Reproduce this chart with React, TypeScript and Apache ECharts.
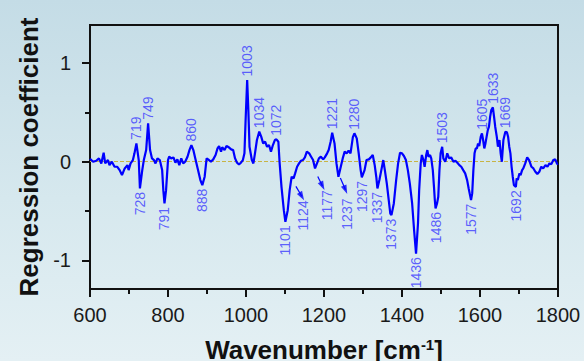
import React, { useEffect, useRef } from 'react';
import * as echarts from 'echarts';

const wavenumbers = [
  600, 608, 616, 623, 629, 635, 639, 646, 650, 656, 663, 670, 676, 682, 689, 696, 699, 704, 710, 714,
  719, 725, 728, 734, 738, 744, 749, 754, 759, 764, 768, 773, 779, 785, 788, 791, 795, 800, 803, 808,
  814, 819, 824, 829, 834, 839, 844, 850, 855, 860, 865, 870, 877, 883, 888, 894, 899, 903, 910, 916,
  922, 927, 931, 936, 939, 945, 950, 956, 962, 967, 972, 977, 982, 987, 992, 996, 999, 1003, 1006, 1009,
  1015, 1019, 1023, 1028, 1034, 1039, 1044, 1049, 1054, 1059, 1064, 1069, 1074, 1078, 1083, 1086, 1091, 1097, 1101, 1107,
  1112, 1117, 1122, 1126, 1131, 1136, 1141, 1146, 1151, 1156, 1162, 1167, 1172, 1177, 1182, 1187, 1192, 1198, 1202, 1208,
  1212, 1217, 1221, 1227, 1232, 1237, 1243, 1248, 1253, 1258, 1263, 1268, 1274, 1278, 1284, 1289, 1294, 1297, 1304, 1309,
  1315, 1320, 1325, 1330, 1334, 1337, 1342, 1347, 1352, 1356, 1361, 1366, 1370, 1373, 1379, 1385, 1390, 1395, 1400, 1405,
  1410, 1415, 1420, 1426, 1431, 1436, 1441, 1444, 1448, 1451, 1455, 1458, 1462, 1465, 1468, 1472, 1475, 1479, 1482, 1484,
  1486, 1490, 1493, 1496, 1499, 1503, 1506, 1511, 1516, 1521, 1526, 1532, 1537, 1542, 1547, 1552, 1557, 1562, 1567, 1571,
  1577, 1580, 1583, 1586, 1589, 1592, 1595, 1598, 1602, 1605, 1608, 1611, 1614, 1617, 1620, 1623, 1626, 1629, 1633, 1636,
  1639, 1643, 1646, 1650, 1653, 1656, 1660, 1665, 1669, 1672, 1675, 1678, 1681, 1684, 1687, 1692, 1694, 1697, 1701, 1704,
  1708, 1711, 1716, 1721, 1726, 1732, 1737, 1742, 1747, 1752, 1757, 1762, 1768, 1773, 1778, 1783, 1788, 1793, 1798, 1800,
];

const coefficients = [
  0.03, 0.0, 0.01, 0.034, -0.017, 0.091, -0.017, 0.017, -0.034, 0.0, -0.051, -0.051, -0.085, -0.135, -0.068, -0.034, -0.085, -0.017, 0.017, 0.085,
  0.186, 0.017, -0.271, -0.085, 0.017, 0.118, 0.389, 0.118, 0.034, 0.017, -0.017, 0.034, 0.017, -0.085, -0.288, -0.423, -0.288, 0.017, 0.051, 0.034,
  0.044, -0.01, 0.024, -0.034, 0.034, -0.017, 0.0, 0.051, 0.118, 0.169, 0.118, 0.034, -0.085, -0.186, -0.237, -0.152, 0.034, 0.024, 0.0, 0.024,
  0.068, 0.135, 0.159, 0.102, 0.146, 0.118, 0.159, 0.146, 0.125, 0.118, 0.034, -0.01, -0.027, -0.01, 0.017, 0.085, 0.423, 0.829, 0.525, 0.152,
  0.017, -0.017, 0.085, 0.22, 0.305, 0.254, 0.186, 0.203, 0.152, 0.169, 0.102, 0.169, 0.22, 0.227, 0.203, 0.0, -0.254, -0.491, -0.609, -0.491,
  -0.288, -0.152, -0.169, -0.118, -0.051, -0.017, 0.01, 0.017, 0.044, 0.102, 0.085, 0.051, 0.017, -0.068, -0.017, 0.034, 0.051, 0.024, 0.044, 0.085,
  0.118, 0.203, 0.294, 0.186, -0.017, -0.152, -0.051, 0.034, 0.102, 0.085, 0.112, 0.085, 0.25, 0.288, 0.237, 0.085, -0.085, -0.159, -0.085, 0.017,
  0.024, 0.044, 0.068, -0.034, -0.152, -0.271, -0.186, -0.085, 0.017, -0.085, -0.22, -0.389, -0.525, -0.541, -0.423, -0.186, -0.017, 0.091, 0.085, 0.058,
  0.017, -0.085, -0.22, -0.423, -0.694, -0.931, -0.626, -0.288, -0.017, 0.068, 0.017, -0.051, 0.068, 0.118, 0.051, 0.068, 0.034, -0.085, -0.254, -0.38,
  -0.474, -0.42, -0.355, -0.085, 0.085, 0.152, 0.034, 0.0, 0.085, 0.034, 0.044, 0.0, 0.01, -0.01, -0.034, -0.051, -0.085, -0.118, -0.186, -0.271,
  -0.389, -0.321, -0.085, 0.085, 0.135, 0.135, 0.186, 0.159, 0.254, 0.288, 0.22, 0.135, 0.186, 0.254, 0.321, 0.355, 0.457, 0.525, 0.552, 0.457,
  0.355, 0.254, 0.152, 0.22, 0.085, 0.0, 0.22, 0.305, 0.298, 0.254, 0.152, 0.085, -0.051, -0.152, -0.237, -0.254, -0.169, -0.186, -0.118, -0.135,
  -0.085, -0.068, -0.017, 0.044, 0.017, -0.051, -0.068, -0.102, -0.125, -0.102, -0.051, -0.068, -0.034, -0.051, -0.017, -0.024, 0.017, 0.024, -0.024, -0.02,
];

const positivePeakLabels = [719, 749, 860, 1003, 1034, 1072, 1221, 1280, 1503, 1605, 1633, 1669];
const negativePeakLabels = [728, 791, 888, 1101, 1297, 1337, 1373, 1436, 1486, 1577, 1692];

const calloutLabels = ['1124', '1177', '1237'];
const calloutArrowStart = [[1128, -0.25], [1184, -0.15], [1242, -0.165]];
const calloutArrowEnd = [[1143, -0.35], [1196, -0.245], [1255, -0.284]];
const calloutTextAnchor = [[1145, -0.386], [1207, -0.284], [1258, -0.368]];

const xMin = 600;
const xMax = 1800;
const xStep = 200;
const yMin = -1.29;
const yMax = 1.386;
const yMajorTicks = [-1, 0, 1];
const yMinorTicks = [-0.5, 0.5];

const GRID_W = 468;
const GRID_H = 264;

const FONT = 'Liberation Sans, Arial, sans-serif';
const LABEL_BLUE = '#3a3aff';

function findExtreme(wn: number, sign: number): [number, number] {
  let best = -1;
  let bestVal = -Infinity;
  for (let i = 0; i < wavenumbers.length; i++) {
    if (Math.abs(wavenumbers[i] - wn) <= 6) {
      const s = sign * coefficients[i];
      if (s > bestVal) {
        bestVal = s;
        best = i;
      }
    }
  }
  return [wavenumbers[best], coefficients[best]];
}

export default function App() {
  const ref = useRef<HTMLDivElement>(null);

  useEffect(() => {
    if (!ref.current) return;
    const chart = echarts.init(ref.current, undefined, { renderer: 'svg' });

    const lineData = wavenumbers.map((w, i) => [w, coefficients[i]]);

    const pxPerX = GRID_W / (xMax - xMin);
    const pxPerY = GRID_H / (yMax - yMin);
    const arrowHeads = calloutArrowEnd.map((end, i) => {
      const start = calloutArrowStart[i];
      const dx = (end[0] - start[0]) * pxPerX;
      const dy = (end[1] - start[1]) * pxPerY;
      const ang = (Math.atan2(dy, dx) * 180) / Math.PI;
      return { value: end, symbolRotate: ang - 90 };
    });

    const peakLabelStyle = {
      show: true,
      formatter: '{b}',
      rotate: 90,
      verticalAlign: 'middle',
      fontSize: 14,
      fontFamily: FONT,
      color: LABEL_BLUE,
    };

    const option: any = {
      animation: false,
      backgroundColor: 'transparent',
      grid: {
        left: 90,
        top: 25,
        width: GRID_W,
        height: GRID_H,
        show: true,
        borderColor: '#111',
        borderWidth: 2,
        backgroundColor: 'transparent',
        containLabel: false,
        outerBoundsMode: 'none',
      },
      xAxis: {
        type: 'value',
        min: xMin,
        max: xMax,
        interval: xStep,
        axisLine: { show: true, onZero: false, lineStyle: { color: '#111', width: 2 } },
        axisTick: { show: true, length: 8, lineStyle: { color: '#111', width: 2 } },
        minorTick: { show: true, splitNumber: 2, length: 5, lineStyle: { color: '#111', width: 2 } },
        splitLine: { show: false },
        axisLabel: {
          fontSize: 20,
          color: '#1a1a1a',
          margin: 16,
          fontFamily: FONT,
          formatter: (v: number) => String(v),
        },
        name: 'Wavenumber [cm{sup|-1}]',
        nameLocation: 'middle',
        nameGap: 48,
        nameTextStyle: {
          fontSize: 26,
          fontWeight: 'bold',
          color: '#111',
          fontFamily: FONT,
          rich: {
            sup: {
              fontSize: 15,
              fontWeight: 'bold',
              color: '#111',
              fontFamily: FONT,
              verticalAlign: 'top',
            },
          },
        },
      },
      yAxis: [
        {
          type: 'value',
          min: yMin,
          max: yMax,
          position: 'left',
          axisLine: { show: true, onZero: false, lineStyle: { color: '#111', width: 2 } },
          axisTick: { show: true, length: 8, customValues: yMajorTicks, lineStyle: { color: '#111', width: 2 } },
          axisLabel: {
            customValues: yMajorTicks,
            fontSize: 20,
            color: '#1a1a1a',
            margin: 19,
            fontFamily: FONT,
            formatter: (v: number) => String(v),
          },
          splitLine: { show: false },
          name: 'Regression coefficient',
          nameLocation: 'middle',
          nameGap: 46,
          nameTextStyle: { fontSize: 26, fontWeight: 'bold', color: '#111', fontFamily: FONT },
        },
        {
          type: 'value',
          min: yMin,
          max: yMax,
          position: 'left',
          axisLine: { show: false },
          axisTick: { show: true, length: 5, customValues: yMinorTicks, lineStyle: { color: '#111', width: 2 } },
          axisLabel: { show: false },
          splitLine: { show: false },
        },
      ],
      series: [
        {
          type: 'line',
          data: lineData,
          showSymbol: false,
          symbol: 'none',
          lineStyle: { color: '#0000ff', width: 2.2 },
          z: 3,
          markLine: {
            silent: true,
            symbol: 'none',
            label: { show: false },
            lineStyle: { color: '#c8b444', type: 'dashed', width: 1 },
            data: [{ yAxis: 0 }],
            z: 1,
          },
        },
        {
          type: 'scatter',
          symbolSize: 1,
          itemStyle: { color: 'rgba(0,0,0,0)' },
          z: 5,
          data: positivePeakLabels.map((p) => ({ name: String(p), value: findExtreme(p, 1) })),
          label: { ...peakLabelStyle, position: 'top', align: 'left', distance: 3 },
        },
        {
          type: 'scatter',
          symbolSize: 1,
          itemStyle: { color: 'rgba(0,0,0,0)' },
          z: 5,
          data: negativePeakLabels.map((p) => ({ name: String(p), value: findExtreme(p, -1) })),
          label: { ...peakLabelStyle, position: 'bottom', align: 'right', distance: 3 },
        },
        {
          type: 'scatter',
          symbolSize: 1,
          itemStyle: { color: 'rgba(0,0,0,0)' },
          z: 5,
          data: calloutLabels.map((n, i) => ({ name: n, value: calloutTextAnchor[i] })),
          label: { ...peakLabelStyle, position: 'bottom', align: 'right', distance: 0 },
          markLine: {
            silent: true,
            symbol: 'none',
            label: { show: false },
            lineStyle: { color: '#0000ff', type: 'solid', width: 1.2 },
            data: calloutLabels.map((_, i) => [
              { coord: calloutArrowStart[i] },
              { coord: calloutArrowEnd[i] },
            ]),
          },
        },
        {
          type: 'scatter',
          symbol: 'triangle',
          symbolSize: [6, 9],
          itemStyle: { color: '#0000ff' },
          silent: true,
          z: 6,
          data: arrowHeads,
        },
      ],
    };

    chart.setOption(option);
    return () => chart.dispose();
  }, []);

  return (
    <div
      ref={ref}
      style={{
        position: 'fixed',
        left: 0,
        top: 0,
        width: 584,
        height: 361,
        background: 'linear-gradient(to bottom, #c4dce6 0%, #d6e8ee 55%, #e4f0f4 100%)',
      }}
    />
  );
}
